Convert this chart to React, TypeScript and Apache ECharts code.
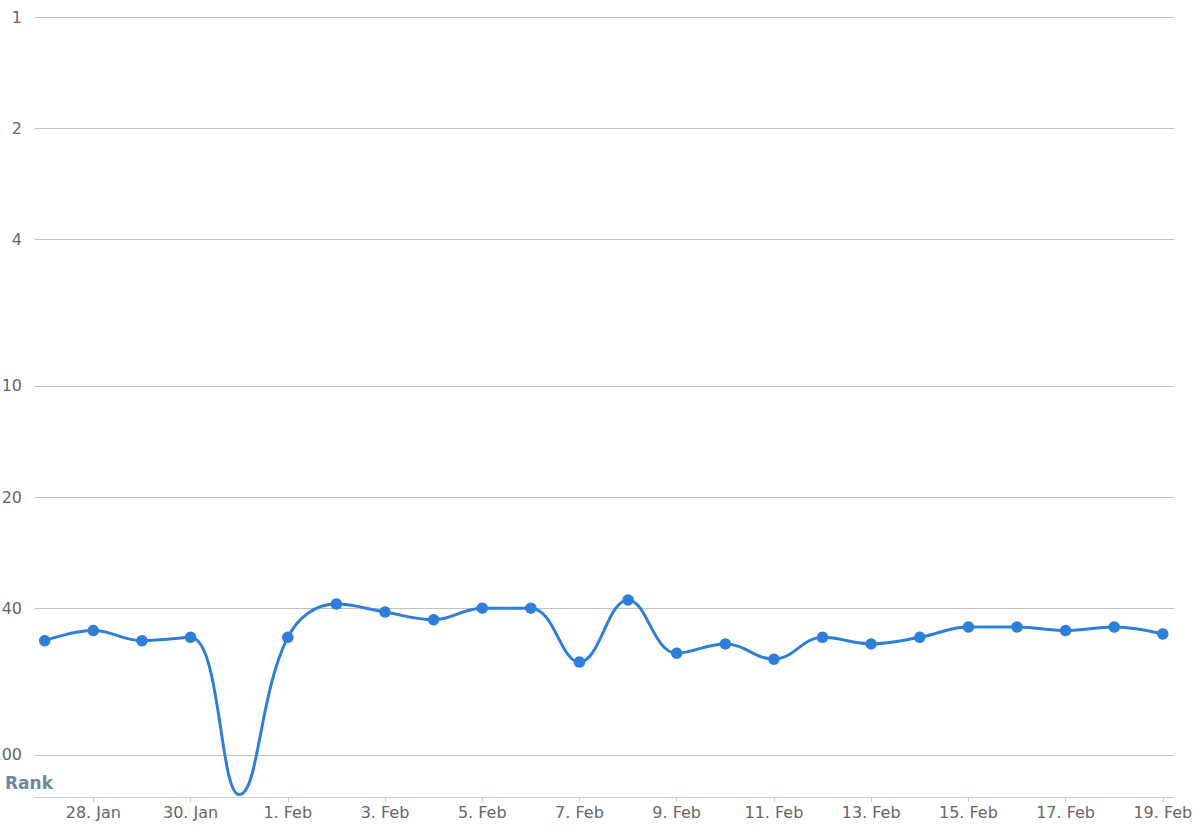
import React, { useEffect, useRef } from "react";
import * as echarts from "echarts";

const dates: string[] = [
  "27. Jan", "28. Jan", "29. Jan", "30. Jan", "31. Jan",
  "1. Feb", "2. Feb", "3. Feb", "4. Feb", "5. Feb", "6. Feb", "7. Feb",
  "8. Feb", "9. Feb", "10. Feb", "11. Feb", "12. Feb", "13. Feb", "14. Feb",
  "15. Feb", "16. Feb", "17. Feb", "18. Feb", "19. Feb",
];

const ranks: number[] = [
  49, 46, 49, 48, 128,
  48, 39, 41, 43, 40, 40, 56,
  38, 53, 50, 55, 48, 50, 48,
  45, 45, 46, 45, 47,
];

const rankTicks: number[] = [1, 2, 4, 10, 20, 40, 100];
const dateTickIdx: number[] = [1, 3, 5, 7, 9, 11, 13, 15, 17, 19, 21, 23];

const FONT = "'DejaVu Sans', Verdana, sans-serif";

export default function App() {
  const ref = useRef<HTMLDivElement>(null);
  useEffect(() => {
    if (!ref.current) return;
    const chart = echarts.init(ref.current, null, { renderer: "svg" });
    chart.setOption({
      animation: false,
      backgroundColor: "#ffffff",
      grid: {
        left: 35,
        right: 26,
        top: 17,
        bottom: 31,
        containLabel: false,
        outerBoundsMode: "none",
      },
      xAxis: {
        type: "value",
        min: -0.2,
        max: 23.23,
        splitLine: { show: false },
        axisLine: { show: true, lineStyle: { color: "#C0D0E0", width: 1 } },
        axisTick: {
          show: true,
          length: 5,
          customValues: dateTickIdx,
          lineStyle: { color: "#C0D0E0" },
        },
        axisLabel: {
          customValues: dateTickIdx,
          formatter: (v: number) => dates[Math.round(v)] ?? "",
          color: "#666666",
          fontSize: 16,
          fontFamily: FONT,
          margin: 7,
        },
      },
      yAxis: {
        type: "log",
        logBase: 10,
        inverse: true,
        min: 1,
        max: 130,
        axisLine: { show: false },
        axisTick: { show: false, customValues: rankTicks },
        splitLine: { show: true, lineStyle: { color: "#C0C0C0", width: 1 } },
        axisLabel: {
          customValues: rankTicks,
          color: "#666666",
          fontSize: 16,
          fontFamily: FONT,
          margin: 13,
          formatter: (v: number) => String(Math.round(v)),
        },
      },
      graphic: [
        {
          type: "text",
          left: 5,
          top: 774,
          style: {
            text: "Rank",
            font: `bold 17px ${FONT}`,
            fill: "#6E87A0",
          },
        },
      ],
      series: [
        {
          type: "line",
          data: ranks.map((r, i) => [i, r]),
          smooth: 0.4,
          symbol: "circle",
          symbolSize: (v: number[]) => (v[1] > 100 ? 0 : 11.5),
          showAllSymbol: true,
          lineStyle: { color: "#2f7ed8", width: 3 },
          itemStyle: { color: "#2f7ed8" },
          clip: true,
        },
      ],
    });
    return () => chart.dispose();
  }, []);
  return (
    <div
      ref={ref}
      style={{ position: "absolute", left: 0, top: 0, width: 1200, height: 828 }}
    />
  );
}
